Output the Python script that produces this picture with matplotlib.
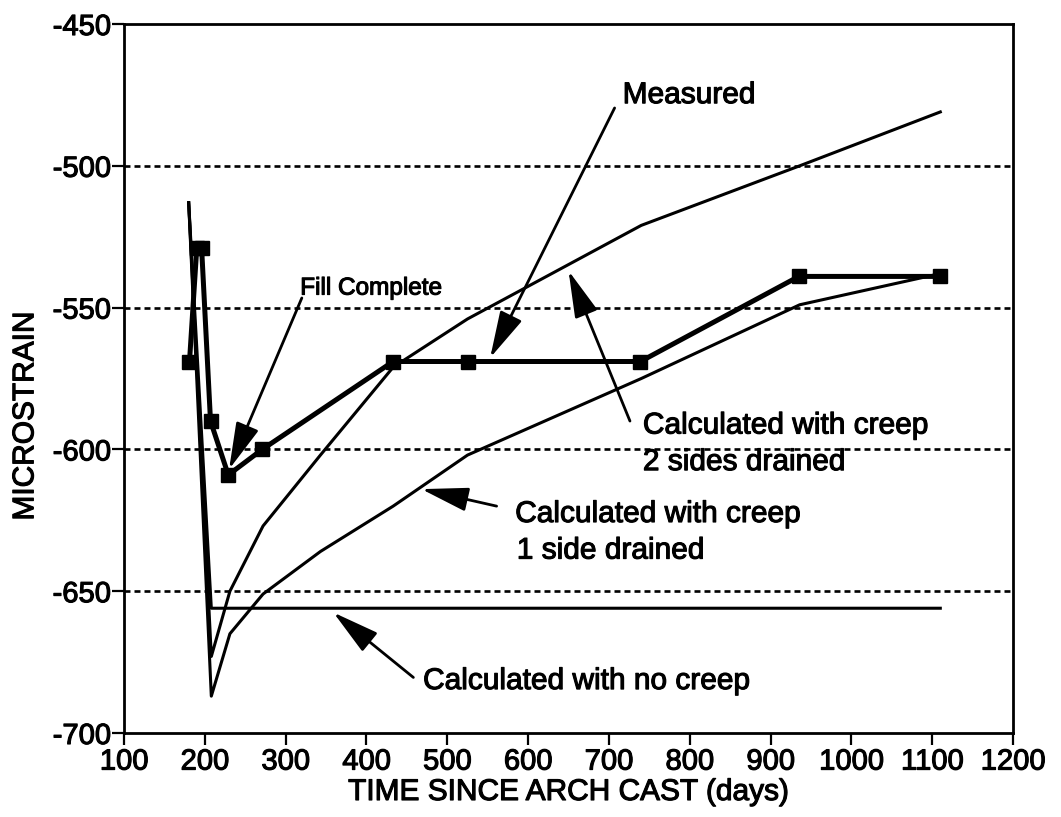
import matplotlib
matplotlib.use("Agg")
import matplotlib.pyplot as plt
import matplotlib.patheffects as pe

plt.rcParams['font.family'] = ['Liberation Sans', 'DejaVu Sans']
plt.rcParams['axes.unicode_minus'] = False
plt.rcParams['lines.scale_dashes'] = False

# measured strain (thick line with squares)
meas_days = [181, 190, 196, 207, 229, 271, 433, 525, 739, 935, 1110]
meas_strain = [-569, -529, -529, -590, -609, -600, -569, -569, -569, -539, -539]

# calculated curves
calc_days = [180, 208, 231, 272, 343, 433, 525, 740, 936, 1110]
two_sides = [-513, -673, -650, -627, -602, -571, -554, -521, -500, -481]
one_side = [-513, -687, -665, -651, -636, -620, -602, -575, -549, -538]

no_creep_days = [180, 208, 1110]
no_creep = [-513, -656, -656]

grid_levels = [-500, -550, -600, -650]
x_ticks = list(range(100, 1201, 100))
y_ticks = list(range(-700, -449, 50))

fig = plt.figure(figsize=(10.61, 8.17), dpi=100)
ax = fig.add_axes([0.1169, 0.1028, 0.8379, 0.8678])

for g in grid_levels:
    ax.axhline(g, color='black', lw=1.9, dashes=(4.3, 2.9), zorder=1)

ax.plot(calc_days, two_sides, color='black', lw=2.2, zorder=2)
ax.plot(calc_days, one_side, color='black', lw=2.2, zorder=2)
ax.plot(no_creep_days, no_creep, color='black', lw=2.2, zorder=2)
ax.plot(meas_days, meas_strain, color='black', lw=3.6, marker='s',
        markersize=9.5, zorder=3)

arrow = dict(arrowstyle='-|>,head_length=1.45,head_width=0.37',
             mutation_scale=20, color='black', lw=2, shrinkA=0, shrinkB=0)

texts = []
ax.annotate('', xy=(230, -607), xytext=(320, -546.6), arrowprops=arrow)
texts.append(ax.text(318, -545.4, 'Fill Complete', fontsize=17.5, va='baseline'))

ax.annotate('', xy=(553, -567.7), xytext=(707, -479.6), arrowprops=arrow)
texts.append(ax.text(717, -477.9, 'Measured', fontsize=21.5, va='baseline'))

ax.annotate('', xy=(650, -537), xytext=(726, -590), arrowprops=arrow)
texts.append(ax.text(742, -594.4, 'Calculated with creep', fontsize=21.5, va='baseline'))
texts.append(ax.text(742, -607.3, '2 sides drained', fontsize=21.5, va='baseline'))

ax.annotate('', xy=(468, -614), xytext=(561, -620), arrowprops=arrow)
texts.append(ax.text(584, -625.6, 'Calculated with creep', fontsize=21.5, va='baseline'))
texts.append(ax.text(586, -638.5, '1 side drained', fontsize=21.5, va='baseline'))

ax.annotate('', xy=(359, -657.5), xytext=(458, -680.4), arrowprops=arrow)
texts.append(ax.text(470, -684.5, 'Calculated with no creep', fontsize=21.5, va='baseline'))

ax.set_xlim(100, 1200)
ax.set_ylim(-700, -450)
ax.set_xticks(x_ticks)
ax.set_yticks(y_ticks)
ax.tick_params(axis='x', direction='out', length=8.5, width=1.6, pad=2, labelsize=21)
ax.tick_params(axis='y', direction='out', length=9, width=1.6, pad=0.5, labelsize=21)
for s in ax.spines.values():
    s.set_linewidth(2)

ax.set_xlabel('TIME SINCE ARCH CAST (days)', fontsize=21.5, va='baseline')
ax.xaxis.set_label_coords(0.5, -0.0945)
ax.set_ylabel('MICROSTRAIN', fontsize=21.5, va='center', ha='center')
ax.yaxis.set_label_coords(-0.111, 0.447)

# scanned print looks heavier: thicken glyphs slightly
thick = [pe.withStroke(linewidth=0.8, foreground='black')]
for t in texts + ax.get_xticklabels() + ax.get_yticklabels() + [ax.xaxis.label, ax.yaxis.label]:
    t.set_path_effects(thick)

fig.savefig('out.png', dpi=100)
